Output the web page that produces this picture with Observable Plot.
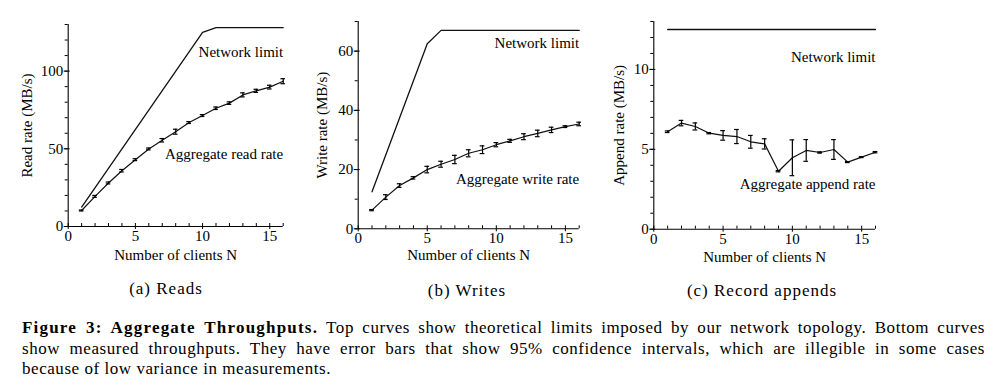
<!DOCTYPE html>
<html>
<head>
<meta charset="utf-8">
<script src="https://cdn.jsdelivr.net/npm/d3@7"></script>
<script src="https://cdn.jsdelivr.net/npm/@observablehq/plot@0.6"></script>
<style>
  body { margin: 0; background: #fff; }
  #root { position: relative; width: 993px; height: 385px; font-family: "Liberation Serif", "Times New Roman", serif; color: #000; }
  .panel { position: absolute; top: 0; }
  .sub { position: absolute; top: 279px; font-size: 17px; letter-spacing: 1px; line-height: 20px; transform: translateX(-50%); white-space: nowrap; }
  #caption { position: absolute; left: 22px; width: 963px; top: 318px; font-size: 17px; line-height: 20.5px; letter-spacing: 0.55px; }
  #caption .l { text-align: justify; text-align-last: justify; white-space: nowrap; }
  #caption .last { text-align: left; }
  #caption b { letter-spacing: 1.2px; }
</style>
</head>
<body>
<div id="root"></div>
<script>
// ---- data ----
const clients = [1,2,3,4,5,6,7,8,9,10,11,12,13,14,15,16];

const readRate = [10.3,19.4,28,35.9,43,49.9,55.5,61,66.9,71.4,76.1,79.4,84.7,87.3,89.7,93.5];
const readErr  = [0.3,0.6,0.6,0.8,0.6,0.6,1.1,1.6,0.6,0.6,0.8,0.8,1.3,1.0,1.2,1.6];
const readLimitN = [1,10,11,16];
const readLimit  = [12.5,125,128,128];

const writeRate = [6.3,10.7,14.6,17.2,20.0,21.8,23.4,25.5,26.7,28.4,29.7,31.1,32.2,33.4,34.5,35.4];
const writeErr  = [0.2,0.8,0.6,0.4,1.1,1.0,1.4,1.2,1.3,0.7,0.5,1.0,1.1,0.9,0.3,0.6];
const writeLimitN = [1,5,6,16];
const writeLimit  = [12.5,62.5,67,67];

const appendRate = [6.1,6.64,6.43,6.01,5.87,5.8,5.47,5.34,3.63,4.47,4.93,4.8,4.99,4.2,4.51,4.82];
const appendErr  = [0.05,0.17,0.22,0.04,0.3,0.44,0.4,0.32,0.04,1.12,0.68,0.04,0.62,0.03,0.03,0.04];
const appendLimitN = [1,16];
const appendLimit  = [12.5,12.5];

const xMajorTicks = [0,5,10,15];
const xMinorTicks = d3.range(0,17);
const readYMajor = [0,50,100];   const readYMinor = d3.range(0,131,10);
const writeYMajor = [0,20,40,60]; const writeYMinor = d3.range(0,71,10);
const appendYMajor = [0,5,10];   const appendYMinor = d3.range(0,14,1);

const xTitle = "Number of clients N";
const yTitles = ["Read rate (MB/s)", "Write rate (MB/s)", "Append rate (MB/s)"];
const readLabels = [{x:16, y:112.3, text:"Network limit"}, {x:16, y:46.5, text:"Aggregate read rate"}];
const writeLabels = [{x:16, y:62.7, text:"Network limit"}, {x:16, y:16.7, text:"Aggregate write rate"}];
const appendLabels = [{x:16, y:10.75, text:"Network limit"}, {x:16, y:2.8, text:"Aggregate append rate"}];
const subCaptions = ["(a) Reads", "(b) Writes", "(c) Record appends"];

// ---- drawing ----
function panel(o) {
  const pts = clients.map((n,i) => ({n, v:o.rate[i], e:o.err[i]}));
  const lim = o.limN.map((n,i) => ({n, v:o.lim[i]}));
  const cap = 0.17;
  return Plot.plot({
    width: o.width, height: 265,
    marginLeft: o.mL, marginRight: o.mR, marginTop: o.mT, marginBottom: o.mB,
    x: {domain:[0,16], axis:null},
    y: {domain:o.yDomain, axis:null},
    style: {fontFamily:"'Liberation Serif', 'Times New Roman', serif", fontSize:"15px", color:"#000", background:"transparent", overflow:"visible"},
    marks: [
      Plot.ruleX([0], {stroke:"#000", strokeWidth:1.1}),
      Plot.ruleY([0], {stroke:"#000", strokeWidth:1.1}),
      Plot.axisY({ticks:o.yMinor, tickSize:3, text:null, label:null}),
      Plot.axisY({ticks:o.yMajor, tickSize:4, tickPadding:1, label:null, fontSize:15}),
      Plot.axisY({ticks:o.yMajor, tickSize:-2, text:null, label:null}),
      Plot.axisX({ticks:xMinorTicks, tickSize:-3, text:null, label:null}),
      Plot.axisX({ticks:xMajorTicks, tickSize:3, tickPadding:1, label:null, fontSize:15}),
      Plot.line(lim, {x:"n", y:"v", stroke:"#111", strokeWidth:1.3}),
      Plot.line(pts, {x:"n", y:"v", stroke:"#111", strokeWidth:1.2}),
      Plot.ruleX(pts, {x:"n", y1:d=>d.v-d.e, y2:d=>d.v+d.e, stroke:"#000", strokeWidth:1.2}),
      Plot.ruleY(pts, {y:d=>d.v+d.e, x1:d=>d.n-cap, x2:d=>d.n+cap, stroke:"#000", strokeWidth:1.2}),
      Plot.ruleY(pts, {y:d=>d.v-d.e, x1:d=>d.n-cap, x2:d=>d.n+cap, stroke:"#000", strokeWidth:1.2}),
      Plot.text(o.labels, {x:"x", y:"y", text:"text", textAnchor:"end", fontSize:15}),
      Plot.text([o.yTitle], {frameAnchor:"left", rotate:-90, dx:o.yDx, textAnchor:"middle", lineAnchor:"middle", fontSize:15}),
      Plot.text([xTitle], {frameAnchor:"bottom", dy:o.xDy, textAnchor:"middle", lineAnchor:"middle", fontSize:15})
    ]
  });
}

const root = document.getElementById("root");
const specs = [
  {left:0, width:300, mL:67.7, mR:17.3, mT:24, mB:39, yDomain:[0,130], rate:readRate, err:readErr, limN:readLimitN, lim:readLimit, yMajor:readYMajor, yMinor:readYMinor, labels:readLabels, yTitle:yTitles[0], yDx:-40.7, xDy:29},
  {left:300, width:300, mL:57.7, mR:21.3, mT:21, mB:36.7, yDomain:[0,70], rate:writeRate, err:writeErr, limN:writeLimitN, lim:writeLimit, yMajor:writeYMajor, yMinor:writeYMinor, labels:writeLabels, yTitle:yTitles[1], yDx:-35.7, xDy:26.7},
  {left:600, width:393, mL:53.3, mR:118, mT:21, mB:36.3, yDomain:[0,13], rate:appendRate, err:appendErr, limN:appendLimitN, lim:appendLimit, yMajor:appendYMajor, yMinor:appendYMinor, labels:appendLabels, yTitle:yTitles[2], yDx:-35, xDy:28.3}
];
for (const s of specs) {
  const svg = panel(s);
  svg.classList.add("panel");
  svg.style.left = s.left + "px";
  root.appendChild(svg);
}

const subX = [166, 467, 762];
const subY = [279, 281, 281];
subCaptions.forEach((t,i) => {
  const d = document.createElement("div");
  d.className = "sub";
  d.style.left = subX[i] + "px";
  d.style.top = subY[i] + "px";
  d.textContent = t;
  root.appendChild(d);
});

const cap = document.createElement("div");
cap.id = "caption";
cap.innerHTML =
  '<div class="l"><b>Figure 3: Aggregate Throughputs.</b> Top curves show theoretical limits imposed by our network topology. Bottom curves</div>' +
  '<div class="l">show measured throughputs. They have error bars that show 95% confidence intervals, which are illegible in some cases</div>' +
  '<div class="last">because of low variance in measurements.</div>';
root.appendChild(cap);
</script>
</body>
</html>
